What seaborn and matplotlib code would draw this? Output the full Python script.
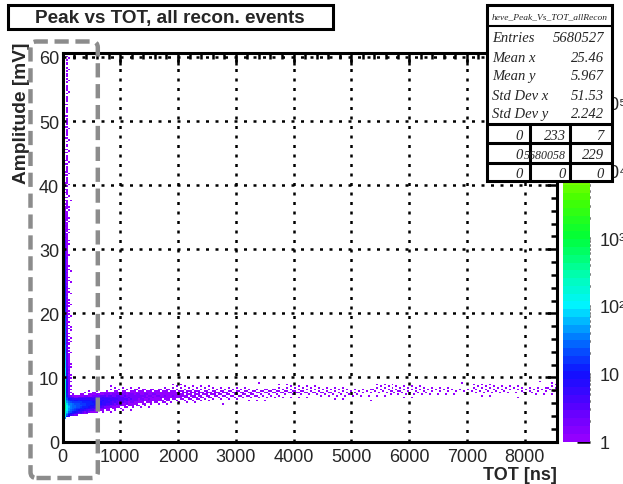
import numpy as np
import pandas as pd
import matplotlib
matplotlib.use("Agg")
import matplotlib.pyplot as plt
from matplotlib.colors import ListedColormap, LinearSegmentedColormap
from matplotlib.patches import Rectangle, FancyBboxPatch
from matplotlib.lines import Line2D
from matplotlib.transforms import IdentityTransform
from matplotlib.ticker import MultipleLocator, FixedLocator
import seaborn as sns

W, H = 623, 485

# ---- histogram binning ----
tot_range = [0.0, 8560.0]
amp_range = [0.0, 60.7]
n_tot_bins = 248
n_amp_bins = 243

# lowest amplitude recorded, as a function of TOT
cut_tot = [0, 100, 300, 600, 8560]
cut_amp = [3.4, 3.8, 4.2, 4.5, 4.5]

# ---- main band of the Peak vs TOT distribution ----
ridge_tot = [0, 50, 100, 200, 350, 500, 750, 1000, 1500, 2000, 3000, 4000, 5000, 6000, 7000, 8000, 8560]
ridge_amp = [4.6, 5.0, 5.3, 5.5, 5.7, 5.9, 6.3, 6.6, 7.0, 7.3, 7.5, 7.7, 7.8, 7.95, 8.05, 8.2, 8.2]
ridge_sigma = [0.75, 0.7, 0.65, 0.62, 0.62, 0.64, 0.68, 0.7, 0.68, 0.62, 0.58, 0.55, 0.55, 0.52, 0.5, 0.5, 0.5]
ridge_log_peak = [3.3, 2.6, 1.8, 1.45, 1.25, 1.05, 0.75, 0.5, 0.2, 0.0, -0.3, -0.45, -0.5, -0.55, -0.65, -0.55, -0.55]

# ---- high-amplitude tail in the first TOT bins (log10 of entries) ----
tail_amp = [9, 12, 15, 20, 25, 30, 35, 40, 50, 60.7]
tail_log_bin0 = [3.0, 2.6, 2.3, 2.0, 1.7, 1.4, 1.0, 0.6, 0.2, 0.0]
tail_log_bin1 = [2.3, 1.9, 1.6, 1.2, 0.9, 0.6, 0.1, -0.5, -1.0, -1.2]
tail_log_bin2 = [1.0, 0.6, 0.4, 0.2, 0.1, 0.0, -0.1, -0.1, -0.2, -0.2]
tail_log_bin3 = [0.3, 0.0, -0.3, -0.4, -0.5, -0.6, -0.7, -0.8, -0.9, -0.9]
tail_log_bin4 = [-0.3, -0.5, -0.7, -0.8, -0.9, -1.2, -1.5, -2.0, -2.0, -2.0]

# ---- axis ticks ----
x_ticks = [0, 1000, 2000, 3000, 4000, 5000, 6000, 7000, 8000]
y_ticks = [0, 10, 20, 30, 40, 50, 60]
z_decades = [0, 1, 2, 3, 4, 5]
z_labels = ["1", "10", "10²", "10³", "10⁴", "10⁵"]
z_log_max = 5.74
n_levels = 50

# ---- statistics box ----
hist_name = "heve_Peak_Vs_TOT_allRecon"
stats_labels = ["Entries", "Mean x", "Mean y", "Std Dev x", "Std Dev y"]
stats_values = ["5680527", "25.46", "5.967", "51.53", "2.242"]
overflow_cells = [["0", "233", "7"], ["0", "5680058", "229"], ["0", "0", "0"]]

title = "Peak vs TOT, all recon. events"
x_title = "TOT [ns]"
y_title = "Amplitude [mV]"

# ---- palette (rainbow from violet to red, in log10 of entries) ----
palette_pos = [0.0, 0.5, 1.0, 1.5, 2.0, 2.5, 3.0, 3.6, 4.3, 4.8, 5.3, 5.74]
palette_col = ["#9900ff", "#5a00ff", "#1010ff", "#0070ff", "#00f4ff", "#00ffa8",
               "#00ff38", "#48ff00", "#c8ff00", "#ffd000", "#ff6000", "#ff0000"]

# ---- build the binned entries ----
x_edges = np.linspace(tot_range[0], tot_range[1], n_tot_bins + 1)
y_edges = np.linspace(amp_range[0], amp_range[1], n_amp_bins + 1)
xc = 0.5 * (x_edges[:-1] + x_edges[1:])
yc = 0.5 * (y_edges[:-1] + y_edges[1:])

centre = np.interp(xc, ridge_tot, ridge_amp)
width = np.interp(xc, ridge_tot, ridge_sigma)
peak = 10 ** np.interp(xc, ridge_tot, ridge_log_peak)
expected = peak[:, None] * np.exp(-0.5 * ((yc[None, :] - centre[:, None]) / width[:, None]) ** 2)
for i, tail in enumerate([tail_log_bin0, tail_log_bin1, tail_log_bin2, tail_log_bin3, tail_log_bin4]):
    above = yc >= centre[i]
    expected[i, above] += 10 ** np.interp(yc[above], tail_amp, tail)
low_cut = np.interp(xc, cut_tot, cut_amp)
expected[yc[None, :] < low_cut[:, None]] = 0.0

# integer entries: ordered rounding with a low-discrepancy offset per cell
ii, jj = np.meshgrid(np.arange(n_tot_bins), np.arange(n_amp_bins), indexing="ij")
offset = np.mod(0.5 + ii * 0.7548776662 + jj * 0.5698402910, 1.0)
entries = np.floor(expected + offset)

# contour level (1..n_levels) of every filled cell, on log-spaced levels
level_log = np.linspace(0, z_log_max, n_levels + 1)
nz = entries > 0
level = np.clip(np.digitize(np.log10(entries[nz]), level_log), 1, n_levels)
cells = pd.DataFrame({
    "tot": np.broadcast_to(xc[:, None], entries.shape)[nz],
    "amp": np.broadcast_to(yc[None, :], entries.shape)[nz],
    "level": level.astype(float),
})

# discrete palette
base = LinearSegmentedColormap.from_list(
    "rainbow_root", [(p / z_log_max, c) for p, c in zip(palette_pos, palette_col)])
level_mid = 0.5 * (level_log[:-1] + level_log[1:])
cmap = ListedColormap([base(v / z_log_max) for v in level_mid])

# ---- figure ----
sns.set_style("white")
plt.rcParams["font.family"] = ["Liberation Sans", "DejaVu Sans"]
plt.rcParams["axes.unicode_minus"] = False

fig = plt.figure(figsize=(W / 100, H / 100), dpi=100)
fig.patch.set_facecolor("white")


def fx(x):
    return x / W


def fy(y):
    return 1 - y / H


ax_l, ax_r, ax_t, ax_b = 62.5, 557.0, 53.5, 442.5
ax = fig.add_axes([fx(ax_l), fy(ax_b), fx(ax_r - ax_l), (ax_b - ax_t) / H])

sns.histplot(data=cells, x="tot", y="amp", weights="level", bins=[x_edges, y_edges],
             cmap=cmap, vmin=0.5, vmax=n_levels + 0.5, ax=ax, cbar=False)

ax.set_xlim(tot_range)
ax.set_ylim(amp_range)
ax.set_xlabel("")
ax.set_ylabel("")
ax.set_xticks(x_ticks)
ax.set_yticks(y_ticks)
ax.xaxis.set_minor_locator(MultipleLocator(200))
ax.yaxis.set_minor_locator(MultipleLocator(2))
ax.set_axisbelow(False)
ax.grid(True, which="major", color="black", linestyle=(0, (1.2, 2.6)), linewidth=1.8)
ax.tick_params(which="both", direction="in", top=True, right=True, width=1.8,
               color="black", labelsize=13)
ax.tick_params(which="major", length=8.5)
ax.tick_params(which="minor", length=4.3)
ax.tick_params(axis="x", pad=4.5)
ax.tick_params(axis="y", pad=2.5)
for s in ax.spines.values():
    s.set_visible(True)
    s.set_linewidth(2.2)
    s.set_color("black")

fig.text(fx(557), fy(480), x_title, ha="right", va="baseline",
         fontsize=13, fontweight="bold")
fig.text(fx(22), fy(43), y_title, ha="center", va="top", rotation=90,
         fontsize=13.8, fontweight="bold")

# ---- palette axis ----
cax = fig.add_axes([fx(563), fy(ax_b), fx(27), (ax_b - ax_t) / H])
cax.pcolormesh([0, 1], level_log, np.arange(n_levels)[:, None], cmap=cmap,
               vmin=-0.5, vmax=n_levels - 0.5)
cax.set_xlim(0, 1)
cax.set_ylim(0, z_log_max)
cax.set_xticks([])
cax.yaxis.tick_right()
cax.set_yticks(z_decades)
cax.set_yticklabels(z_labels)
minor = [d + np.log10(k) for d in range(6) for k in range(2, 10) if d + np.log10(k) < z_log_max]
cax.yaxis.set_minor_locator(FixedLocator(minor))
cax.tick_params(which="both", direction="in", right=True, left=False, width=1.8,
                color="black", labelsize=13, pad=7)
cax.tick_params(which="major", length=9.4)
cax.tick_params(which="minor", length=4.3)
for s in cax.spines.values():
    s.set_visible(False)

# ---- title box ----
fig.add_artist(Rectangle((fx(7.5), fy(30)), fx(333 - 7.5), (30 - 6) / H,
                         transform=fig.transFigure, facecolor="white",
                         edgecolor="black", linewidth=2.2, zorder=10))
fig.text(fx(170), fy(18.5), title, ha="center", va="center", fontsize=13.6,
         fontweight="bold", zorder=11)

# ---- statistics box ----
bx0, bx1, by0, by1 = 487, 612, 6, 182
fig.add_artist(Rectangle((fx(bx0), fy(by1)), fx(bx1 - bx0), (by1 - by0) / H,
                         transform=fig.transFigure, facecolor="white",
                         edgecolor="black", linewidth=2.2, zorder=10))


def hline(y, lw):
    fig.add_artist(Line2D([fx(bx0), fx(bx1)], [fy(y), fy(y)], transform=fig.transFigure,
                          color="black", linewidth=lw, zorder=11))


def vline(x, lw):
    fig.add_artist(Line2D([fx(x), fx(x)], [fy(124.5), fy(by1)], transform=fig.transFigure,
                          color="black", linewidth=lw, zorder=11))


hline(27, 1.5)
hline(124.5, 2.2)
hline(144, 2.2)
hline(163.5, 2.2)
vline(529.5, 2.2)
vline(569.5, 2.2)

serif = dict(family=["Liberation Serif", "DejaVu Serif"], style="italic")
fig.text(fx(549.5), fy(17), hist_name, ha="center", va="center", fontsize=6.8,
         zorder=12, **serif)
stat_baselines = [42, 62, 80, 100, 118]
for lab, val, yb in zip(stats_labels, stats_values, stat_baselines):
    fig.text(fx(492), fy(yb), lab, ha="left", va="baseline", fontsize=10.5, zorder=12, **serif)
    fig.text(fx(604), fy(yb), val, ha="right", va="baseline", fontsize=10.5, zorder=12, **serif)
cell_right = [523, 566, 604]
row_base = [140, 159.5, 178.5]
for row, yb in zip(overflow_cells, row_base):
    for txt, xr in zip(row, cell_right):
        # long entries are squeezed so they fit in their cell
        size = 10.5 if len(txt) <= 4 else 8.6
        fig.text(fx(xr), fy(yb), txt, ha="right", va="baseline", fontsize=size,
                 zorder=12, **serif)

# ---- highlighted low-TOT region ----
rx0, rx1, ry0, ry1 = 30.5, 97.8, 42.5, 479.0
fig.add_artist(FancyBboxPatch((rx0, H - ry1), rx1 - rx0, ry1 - ry0,
                              boxstyle="round,pad=0,rounding_size=6",
                              transform=IdentityTransform(), facecolor="none",
                              edgecolor="#8c8c8c", linewidth=3.2,
                              linestyle=(0, (3.2, 1.5)), zorder=13))

fig.savefig("out.png", dpi=100)
